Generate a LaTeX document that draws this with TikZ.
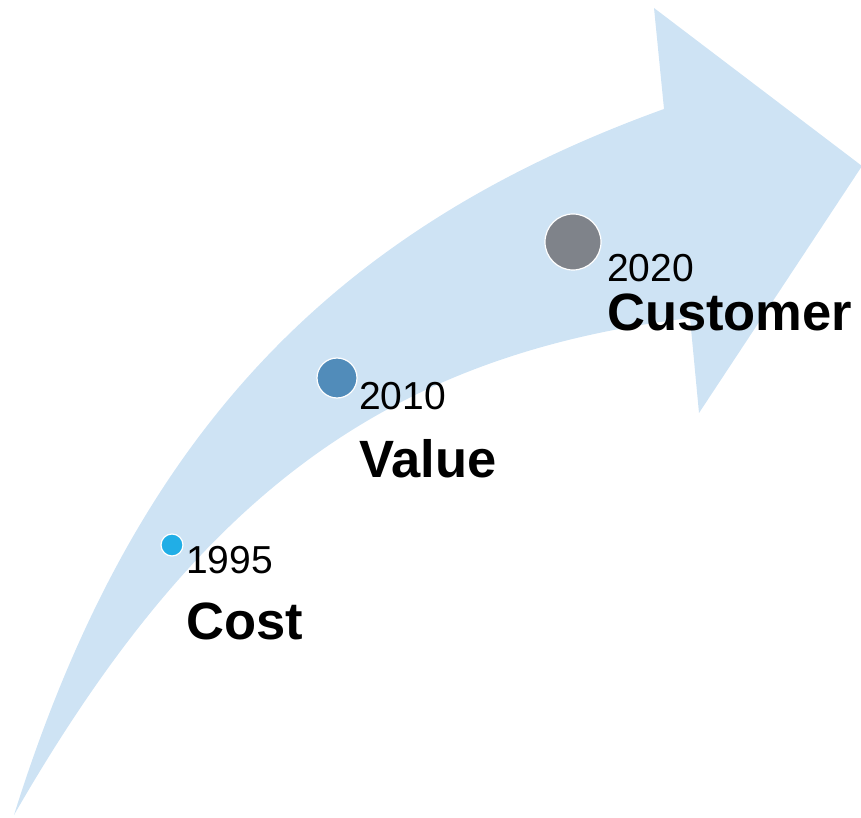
\documentclass[tikz,border=0pt]{standalone}
\usepackage{fontspec}
\setmainfont{Liberation Sans}
\usetikzlibrary{positioning}

\definecolor{bandblue}{RGB}{206,227,244}
\definecolor{costblue}{RGB}{33,174,230}
\definecolor{valueblue}{RGB}{81,140,186}
\definecolor{custgray}{RGB}{127,131,138}

\begin{document}
\begin{tikzpicture}[
    x=1pt, y=1pt,
    node distance=29pt,
    dot/.style={circle, draw=white, line width=1.2pt, inner sep=0pt},
    year/.style={inner sep=0pt, font=\fontsize{39}{41}\selectfont},
    milestone/.style={inner sep=0pt, font=\fontsize{52.5}{55}\selectfont\bfseries}
]
\useasboundingbox (0,0) rectangle (861,817);

% curved band with its head
\fill[bandblue] (14,2) .. controls (198,322) and (387,462) .. (690,499)
    -- (699,404) -- (862,651) -- (654,809) -- (664,708)
    .. controls (326,586) and (131,375) .. (14,2) -- cycle;

\node[dot, fill=costblue, minimum size=22pt] (d1995) at (172,272) {};
\node[dot, fill=valueblue, minimum size=40pt] (d2010) at (337,439) {};
\node[dot, fill=custgray, minimum size=56pt] (d2020) at (573,575) {};

\node[year, anchor=base west] (y1995) at (186,244) {1995};
\node[milestone, below=of y1995.south west, anchor=north west] (cost) {Cost};

\node[year, anchor=base west] (y2010) at (359,407) {2010};
\node[milestone, below=of y2010.south west, anchor=north west] (value) {Value};

\node[year, anchor=base west] (y2020) at (607,535) {2020};
\node[milestone, below=11pt of y2020.south west, anchor=north west] (customer) {Customer};
\end{tikzpicture}
\end{document}
